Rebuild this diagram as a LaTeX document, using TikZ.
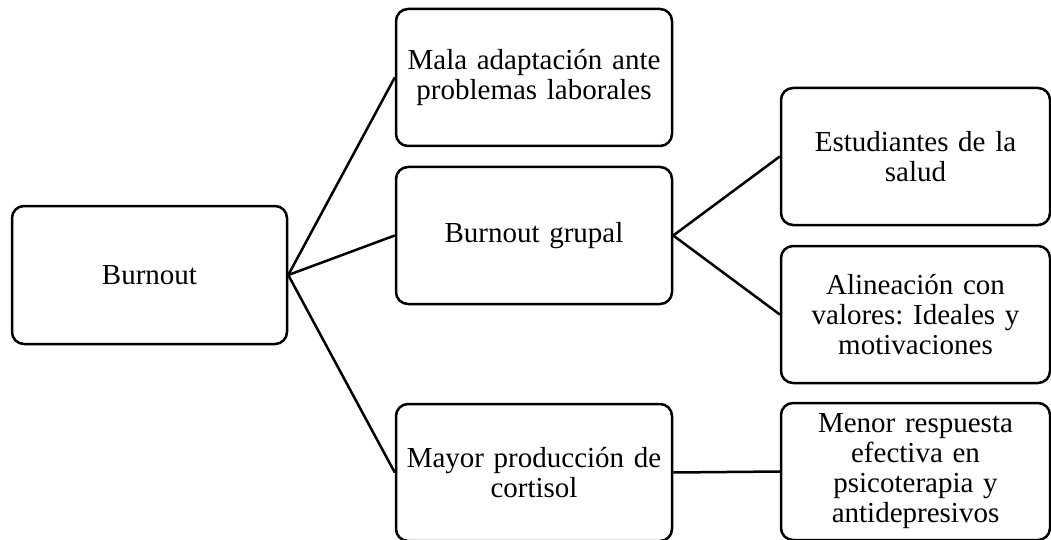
\documentclass[tikz,border=0pt]{standalone}
\usepackage{fontspec}
\setmainfont{Liberation Serif}
\frenchspacing
\begin{document}
\begin{tikzpicture}[x=1pt,y=-1pt,
  box/.style={draw=black, line width=2.5pt, rounded corners=12pt, rectangle,
    minimum height=137pt, inner sep=4pt, align=center,
    font=\fontsize{29}{30}\selectfont},
  lbox/.style={box, minimum width=276pt, text width=268pt},
  rbox/.style={box, minimum width=269pt, text width=261pt},
  conn/.style={draw=black, line width=2.5pt}]
\useasboundingbox (0,0) rectangle (1051,540);
\node[box, minimum width=275pt, minimum height=138pt, text width=267pt] (burn) at (149.5,275) {Burnout};
\node[lbox] (mala) at (534,77.5) {Mala adaptación ante\\problemas laborales};
\node[lbox] (grup) at (534,235.5) {Burnout grupal};
\node[lbox] (mayor) at (534,472.5) {Mayor producción de\\cortisol};
\node[rbox] (est) at (915.5,156.5) {Estudiantes de la\\salud};
\node[rbox] (ali) at (915.5,314.5) {Alineación con\\valores: Ideales y\\motivaciones};
\node[rbox] (men) at (915.5,471.5) {Menor respuesta\\efectiva en\\psicoterapia y\\antidepresivos};
\draw[conn] (burn.east) -- (mala.west);
\draw[conn] (burn.east) -- (grup.west);
\draw[conn] (burn.east) -- (mayor.west);
\draw[conn] (grup.east) -- (est.west);
\draw[conn] (grup.east) -- (ali.west);
\draw[conn] (mayor.east) -- (men.west);
\end{tikzpicture}
\end{document}
